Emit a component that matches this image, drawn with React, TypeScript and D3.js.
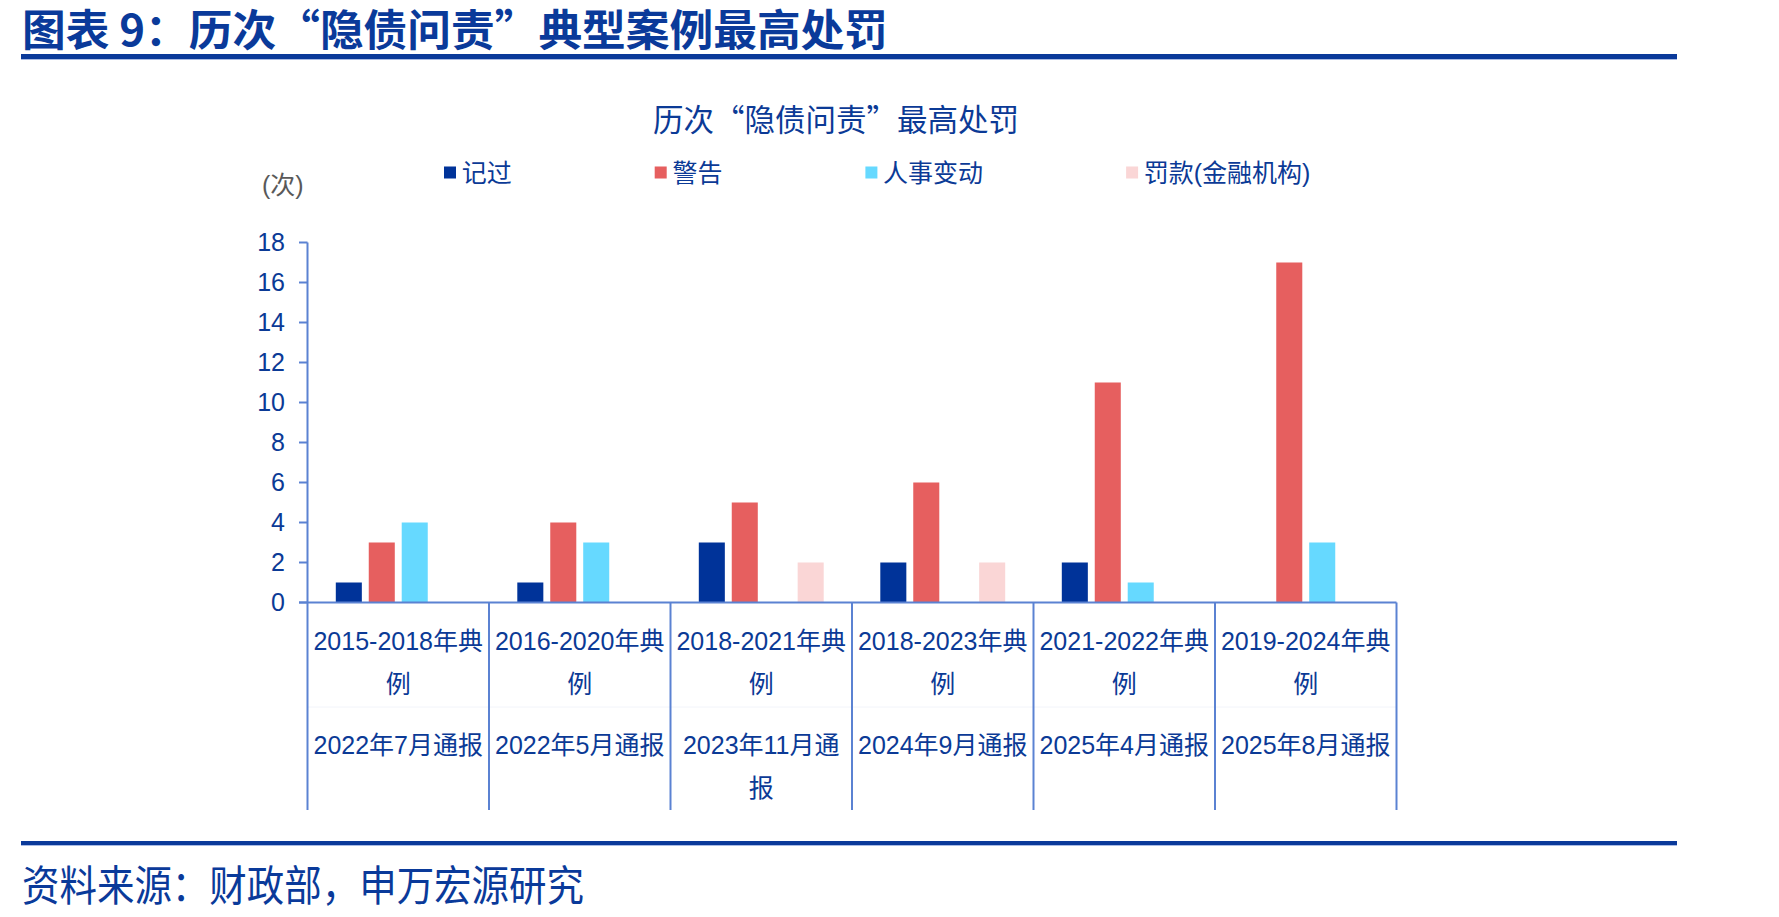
import React from "react";
import * as d3 from "d3";

// ---------- data ----------
const categories = [
  "2015-2018年典例",
  "2016-2020年典例",
  "2018-2021年典例",
  "2018-2023年典例",
  "2021-2022年典例",
  "2019-2024年典例",
];
const notices = [
  "2022年7月通报",
  "2022年5月通报",
  "2023年11月通报",
  "2024年9月通报",
  "2025年4月通报",
  "2025年8月通报",
];
const seriesNames = ["记过", "警告", "人事变动", "罚款(金融机构)"];
const jiGuo = [1, 1, 3, 2, 2, 0];
const jingGao = [3, 4, 5, 6, 11, 17];
const renShi = [4, 3, 0, 0, 1, 3];
const faKuan = [0, 0, 2, 2, 0, 0];
const yTicks = [0, 2, 4, 6, 8, 10, 12, 14, 16, 18];
const seriesColors = ["#003399", "#E65F5F", "#66D9FF", "#FAD6D6"];

const seriesValues = [jiGuo, jingGao, renShi, faKuan];

// ---------- layout ----------
const W = 1779;
const H = 917;
const plotLeft = 307.5;
const plotRight = 1396.5;
const yZero = 602.5;
const yTop = 242.5;
const axisColor = "#5B82D2";
const textBlue = "#0B3A96";
const latinCjk = "'Liberation Sans', Arial, 'Noto Sans CJK SC', sans-serif";
const cjkFirst = "'Noto Sans CJK SC', 'Liberation Sans', sans-serif";

function charW(c: string): number {
  if (/[0-9]/.test(c)) return 0.556;
  if (c === "-" || c === "(" || c === ")") return 0.333;
  if (c === " ") return 0.278;
  return 1;
}
function textW(s: string, size: number): number {
  let w = 0;
  for (const c of s) w += charW(c);
  return w * size;
}
function wrap(s: string, size: number, maxW: number): string[] {
  const lines: string[] = [];
  let cur = "";
  for (const c of s) {
    if (textW(cur + c, size) > maxW && cur.length > 0) {
      lines.push(cur);
      cur = c;
    } else cur += c;
  }
  if (cur) lines.push(cur);
  return lines;
}

export default function App() {
  const x0 = d3
    .scaleBand<string>()
    .domain(categories)
    .range([plotLeft, plotRight])
    .padding(0);
  const cw = x0.bandwidth();
  const x1 = d3
    .scaleBand<string>()
    .domain(seriesNames)
    .range([28.3, cw - 28.3])
    .paddingInner(0.21)
    .paddingOuter(0);
  const y = d3.scaleLinear().domain([0, 18]).range([yZero, yTop]);

  const labelSize = 25;
  const row1Top = yZero;
  const row2Top = 707;
  const lineGap = 43;
  const firstOffset = 38;

  // legend layout
  const legendSize = 25;
  const legendY = 172.5;
  let lx = 444;
  const legendItems = seriesNames.map((name, i) => {
    const item = { name, x: lx, color: seriesColors[i] };
    lx += 12 + 5.7 + textW(name, legendSize) + 143;
    return item;
  });

  const boundaries = categories.map((c) => x0(c) as number).concat([plotRight]);

  return (
    <div>
      <style>{`body{margin:0;}`}</style>
      <svg width={W} height={H} style={{ display: "block", background: "#fff" }}>
        {/* header title */}
        <text
          x={22}
          y={46}
          fontFamily={cjkFirst}
          fontWeight="bold"
          fontSize={43}
          fill="#0A3A9A"
          textLength={866}
          lengthAdjust="spacingAndGlyphs"
        >
          图表 9：历次“隐债问责”典型案例最高处罚
        </text>
        <rect x={21} y={54} width={1656} height={5} fill="#0A3A9A" />
        <rect x={21} y={59} width={1656} height={1} fill="#A9BBE4" />

        {/* chart title */}
        <text
          x={836}
          y={131}
          textAnchor="middle"
          fontFamily={cjkFirst}
          fontSize={30.5}
          fill={textBlue}
        >
          历次“隐债问责”最高处罚
        </text>

        {/* legend */}
        {legendItems.map((it) => (
          <g key={it.name}>
            <rect x={it.x} y={legendY - 6} width={12} height={12} fill={it.color} />
            <text
              x={it.x + 17.7}
              y={legendY}
              dominantBaseline="central"
              fontFamily={latinCjk}
              fontSize={legendSize}
              fill={textBlue}
            >
              {it.name}
            </text>
          </g>
        ))}

        {/* unit */}
        <text
          x={262}
          y={185}
          dominantBaseline="central"
          fontFamily={latinCjk}
          fontSize={25}
          fill="#595959"
        >
          (次)
        </text>

        {/* y axis */}
        <line x1={plotLeft} x2={plotLeft} y1={yTop} y2={yZero} stroke={axisColor} strokeWidth={2} />
        {yTicks.map((t) => (
          <g key={t}>
            <line x1={299} x2={plotLeft} y1={y(t)} y2={y(t)} stroke={axisColor} strokeWidth={2} />
            <text
              x={285}
              y={y(t) - 1}
              textAnchor="end"
              dominantBaseline="central"
              fontFamily={latinCjk}
              fontSize={25}
              fill={textBlue}
            >
              {t}
            </text>
          </g>
        ))}

        {/* bars */}
        {categories.map((c, ci) => (
          <g key={c}>
            {seriesNames.map((s, si) => {
              const v = seriesValues[si][ci];
              if (!v) return null;
              const bx = (x0(c) as number) + (x1(s) as number);
              return (
                <rect
                  key={s}
                  x={bx}
                  y={y(v)}
                  width={x1.bandwidth()}
                  height={yZero - y(v)}
                  fill={seriesColors[si]}
                />
              );
            })}
          </g>
        ))}

        {/* x axis baseline and category grid */}
        <line x1={299} x2={plotRight} y1={yZero} y2={yZero} stroke={axisColor} strokeWidth={2} />
        <line x1={plotLeft} x2={plotRight} y1={row2Top} y2={row2Top} stroke="#F2F4FA" strokeWidth={1} />
        {boundaries.map((bx, i) => (
          <line key={i} x1={bx} x2={bx} y1={yZero} y2={810} stroke={axisColor} strokeWidth={2} />
        ))}

        {/* category labels */}
        {categories.map((c, ci) => {
          const cx = (x0(c) as number) + cw / 2;
          const l1 = wrap(c, labelSize, 175);
          const l2 = wrap(notices[ci], labelSize, 175);
          return (
            <g key={c}>
              {l1.map((t, li) => (
                <text
                  key={"a" + li}
                  x={cx}
                  y={row1Top + firstOffset + li * lineGap}
                  textAnchor="middle"
                  dominantBaseline="central"
                  fontFamily={latinCjk}
                  fontSize={labelSize}
                  fill={textBlue}
                >
                  {t}
                </text>
              ))}
              {l2.map((t, li) => (
                <text
                  key={"b" + li}
                  x={cx}
                  y={row2Top + firstOffset + li * lineGap}
                  textAnchor="middle"
                  dominantBaseline="central"
                  fontFamily={latinCjk}
                  fontSize={labelSize}
                  fill={textBlue}
                >
                  {t}
                </text>
              ))}
            </g>
          );
        })}

        {/* bottom rule and source */}
        <rect x={21} y={841} width={1656} height={4} fill="#0A3A9A" />
        <rect x={21} y={845} width={1656} height={1} fill="#A9BBE4" />
        <text
          x={22}
          y={901}
          fontFamily={cjkFirst}
          fontSize={42}
          fill="#0A3A9A"
          textLength={562}
          lengthAdjust="spacingAndGlyphs"
        >
          资料来源：财政部，申万宏源研究
        </text>
      </svg>
    </div>
  );
}
